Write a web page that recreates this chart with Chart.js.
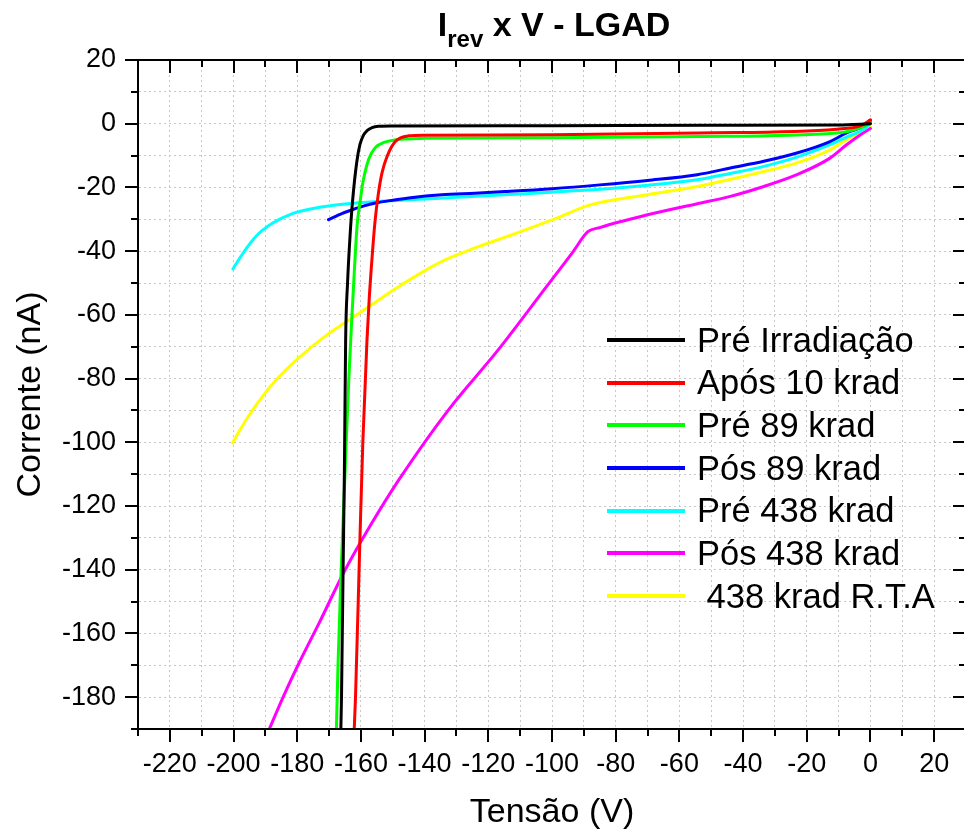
<!DOCTYPE html>
<html>
<head>
<meta charset="utf-8">
<script src="https://cdn.jsdelivr.net/npm/chart.js@4.4.1/dist/chart.umd.min.js"></script>
<style>
  html, body { margin: 0; padding: 0; background: #fff; overflow: hidden; }
  #wrap { position: relative; width: 972px; height: 835px; }
  #title { position: absolute; left: 138px; width: 832px; top: 7px; text-align: center;
           font: bold 34px "Liberation Sans", Arial, sans-serif; line-height: 34px; white-space: pre; }
  #title span { font-size: 24px; position: relative; top: 11px; }
  #legend { position: absolute; left: 607px; top: 318.6px; font: 34.5px "Liberation Sans", Arial, sans-serif; }
  .row { height: 42.7px; line-height: 42.7px; position: relative; white-space: pre; width: 360px; }
  .row i { position: absolute; left: 0; top: 19.3px; width: 78px; height: 4px; }
  .row b { position: absolute; left: 90px; font-weight: normal; }
</style>
</head>
<body>
<div id="wrap">
  <canvas id="ivChart" width="972" height="835"></canvas>
  <div id="title">I<span>rev</span> x V - LGAD</div>
  <div id="legend"></div>
</div>
<script>
// series labels / colours
const seriesNames = ["Pré Irradiação", "Após 10 krad", "Pré 89 krad", "Pós 89 krad",
                     "Pré 438 krad", "Pós 438 krad", " 438 krad R.T.A"];
const seriesColors = ["#000000", "#ff0000", "#00ff00", "#0000ff", "#00ffff", "#ff00ff", "#ffff00"];

// voltage (V) / current (nA)
const preIrrV = [-166.3, -166.1, -165.6, -165.2, -164.8, -164.2, -163.4, -162.6, -161.3, -160.3, -159.2, -158.0, -156.5, -154.5, -150, -100, -50, -10, 0];
const preIrrI = [-190, -180, -140, -110, -68, -50, -35, -24, -12, -6.5, -3.6, -2.1, -1.2, -0.8, -0.7, -0.6, -0.5, -0.4, 0];

const apos10V = [-162.1, -161.7, -160.3, -159.4, -158.1, -157.4, -156.5, -155.6, -154.6, -153.4, -151.8, -149.2, -145, -140, -100, -54, -10.6, -3, 0];
const apos10I = [-190, -180, -130, -100, -68, -55, -42, -31, -22.5, -15.5, -10.3, -5.6, -3.8, -3.6, -3.5, -2.9, -1.7, -0.6, 1.2];

const pre89V = [-167.7, -167.2, -166.2, -165.0, -163.8, -162.8, -162.0, -161.2, -160.2, -159.3, -157.5, -155.5, -152.5, -149, -140, -100, -54, -10.6, -3, 0];
const pre89I = [-190, -170, -140, -110, -80, -60, -45, -32, -24, -18, -11, -7.5, -5.8, -5, -4.6, -4.4, -4.0, -2.9, -1.2, 0.3];

const pos89V = [-170.2, -166, -162.7, -159, -155.4, -150, -145, -134.6, -124.2, -114.8, -100, -85, -70, -54.4, -44, -33.5, -23.1, -12.7, -7.5, -2.3, -0.4, 0];
const pos89I = [-30.1, -28.2, -27, -25.8, -24.9, -24, -23.3, -22.3, -21.8, -21.3, -20.4, -19.2, -17.8, -16, -13.9, -11.8, -9.2, -5.6, -2.9, -0.8, 0.7, 1];

const pre438V = [-200.2, -197, -193, -187.7, -181.5, -175, -165, -155, -145, -130, -115, -100, -85, -70, -54.4, -44, -33.5, -23.1, -12.7, -7.5, -2.3, 0];
const pre438I = [-45.6, -40.6, -35.4, -31.2, -28.2, -26.6, -25.2, -24.4, -23.9, -23.1, -22.3, -21.5, -20.6, -19.3, -17.6, -15.6, -13.4, -10.5, -6.6, -4.2, -1.9, 0];

const pos438V = [-188.75, -184.4, -179.4, -173.1, -165.3, -156.9, -148.1, -132.5, -116.9, -101.25, -93.4, -88.75, -85, -70, -54.4, -44, -33.5, -23.1, -12.7, -7.5, -2.3, 0];
const pos438I = [-190, -179.9, -169.2, -156.7, -140.7, -125.9, -111.8, -89.8, -71.0, -50.5, -40.2, -33.9, -32.6, -28.6, -25.1, -22.8, -19.7, -16, -10.8, -6.6, -2.9, -1.5];

const rtaV = [-200.3, -195.9, -190, -184.1, -177.8, -171.6, -163.75, -154.4, -148.1, -134.7, -123.1, -113.75, -98.1, -88.75, -70, -54.4, -33.5, -23.1, -12.7, -7.5, -2.3, 0];
const rtaI = [-100.2, -92.7, -84.4, -77.8, -72.0, -67.0, -61.6, -55.3, -51.1, -43.3, -38.6, -35.3, -29.5, -25.7, -22.3, -19.7, -15, -12.3, -8.2, -5, -2.4, -1];

const allV = [preIrrV, apos10V, pre89V, pos89V, pre438V, pos438V, rtaV];
const allI = [preIrrI, apos10I, pre89I, pos89I, pre438I, pos438I, rtaI];

const FONT = "'Liberation Sans', Arial, sans-serif";

function toPoints(vs, is) {
  return vs.map((v, k) => ({ x: v, y: is[k] }));
}

// frame on all four sides with tick marks (outward bottom/left, inward top/right)
const framePlugin = {
  id: "frame",
  afterDraw(chart) {
    const { ctx, chartArea: a, scales: { x, y } } = chart;
    ctx.save();
    ctx.strokeStyle = "#000";
    ctx.lineWidth = 2;
    ctx.strokeRect(a.left, a.top, a.right - a.left, a.bottom - a.top);
    ctx.beginPath();
    x.ticks.forEach((t) => {
      const px = Math.round(x.getPixelForValue(t.value));
      const len = t.value % 20 === 0 ? 13 : 7;
      ctx.moveTo(px, a.bottom); ctx.lineTo(px, a.bottom + len);
      ctx.moveTo(px, a.top); ctx.lineTo(px, a.top + len);
    });
    y.ticks.forEach((t) => {
      const py = Math.round(y.getPixelForValue(t.value));
      const len = t.value % 20 === 0 ? 13 : 7;
      ctx.moveTo(a.left, py); ctx.lineTo(a.left - len, py);
      ctx.moveTo(a.right, py); ctx.lineTo(a.right - len, py);
    });
    ctx.stroke();
    ctx.restore();
  }
};

const datasets = seriesNames.map((name, k) => ({
  label: name,
  data: toPoints(allV[k], allI[k]),
  borderColor: seriesColors[k],
  backgroundColor: seriesColors[k],
  borderWidth: 3,
  pointRadius: 0,
  showLine: true,
  cubicInterpolationMode: "monotone",
  borderJoinStyle: "round",
  borderCapStyle: "round"
}));

const grid = {
  color: "#c8c8c8",
  lineWidth: 1,
  drawTicks: true,
  tickLength: 13,
  tickColor: "rgba(0,0,0,0)"
};
const border = { display: true, color: "#000", width: 2, dash: [2, 3] };

const chart = new Chart(document.getElementById("ivChart"), {
  type: "scatter",
  data: { datasets: datasets },
  options: {
    responsive: false,
    animation: false,
    layout: { padding: { top: 60, right: 2, left: 0, bottom: 0 } },
    plugins: { legend: { display: false }, tooltip: { enabled: false } },
    scales: {
      x: {
        type: "linear",
        min: -230,
        max: 30,
        grid: grid,
        border: border,
        ticks: {
          stepSize: 10,
          autoSkip: false,
          maxRotation: 0,
          padding: 6,
          color: "#000",
          font: { family: FONT, size: 27 },
          callback: (v) => (v % 20 === 0 && v >= -220 && v <= 20 ? String(v) : "")
        },
        title: {
          display: true,
          text: "Tensão (V)",
          color: "#000",
          font: { family: FONT, size: 34 },
          padding: { top: 0, bottom: 2 }
        },
        afterFit: (scale) => { scale.height = 106; }
      },
      y: {
        min: -190,
        max: 20,
        grid: grid,
        border: border,
        ticks: {
          stepSize: 10,
          autoSkip: false,
          padding: 9,
          color: "#000",
          font: { family: FONT, size: 27 },
          callback: (v) => (v % 20 === 0 ? String(v) : "")
        },
        title: {
          display: true,
          text: "Corrente (nA)",
          color: "#000",
          font: { family: FONT, size: 34 },
          padding: { top: 10, bottom: 0 }
        },
        afterFit: (scale) => { scale.width = 138; }
      }
    }
  },
  plugins: [framePlugin]
});

// legend drawn as html inside the plot area
const legendBox = document.getElementById("legend");
chart.data.datasets.forEach((ds) => {
  const row = document.createElement("div");
  row.className = "row";
  row.innerHTML = `<i style="background:${ds.borderColor}"></i><b>${ds.label}</b>`;
  legendBox.appendChild(row);
});
</script>
</body>
</html>
